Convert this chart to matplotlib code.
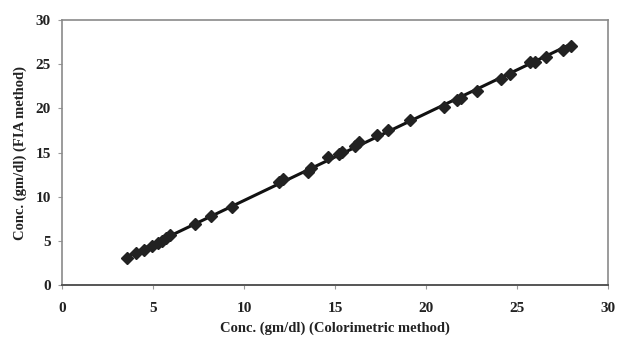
import numpy as np
import matplotlib
matplotlib.use("Agg")
import matplotlib.pyplot as plt

plt.rcParams['font.family'] = ['Liberation Serif', 'DejaVu Serif']

colorimetric = [3.59, 4.09, 4.5, 4.95, 5.27, 5.48, 5.7, 5.96, 7.3, 8.17, 9.35,
                11.9, 12.15, 13.5, 13.7, 14.6, 15.2, 15.4, 16.1, 16.3, 17.3, 17.9,
                19.1, 20.97, 21.7, 21.9, 22.8, 24.1, 24.6, 25.7, 26.0, 26.6, 27.5, 27.96]
fia = [3.09, 3.58, 4.0, 4.4, 4.7, 5.0, 5.3, 5.66, 6.9, 7.8, 8.8,
       11.7, 11.96, 12.8, 13.2, 14.5, 14.8, 15.1, 15.7, 16.2, 17.0, 17.5,
       18.7, 20.2, 21.0, 21.2, 22.0, 23.3, 23.9, 25.2, 25.3, 25.8, 26.6, 27.1]
ticks = [0, 5, 10, 15, 20, 25, 30]

fig = plt.figure(figsize=(6.18, 3.4), dpi=100)
ax = fig.add_axes([62/618, 1-285/340, 546/618, 265/340])

x = np.array(colorimetric)
y = np.array(fia)
m, b = np.polyfit(x, y, 1)
xl = np.array([x.min(), x.max()])
ax.plot(xl, m*xl + b, color='#111111', lw=2.2, zorder=2)
ax.plot(x, y, linestyle='none', marker='D', ms=6, color='#222222', zorder=3)

ax.set_xlim(0, 30)
ax.set_ylim(0, 30)
ax.set_xticks(ticks)
ax.set_yticks(ticks)
for s in ['left', 'right', 'top']:
    ax.spines[s].set_color('#8a8a8a')
    ax.spines[s].set_linewidth(1.2)
ax.spines['bottom'].set_color('#555555')
ax.spines['bottom'].set_linewidth(1.4)
ax.tick_params(axis='both', direction='out', length=3, color='#999999',
               labelsize=11, labelcolor='#222222')
ax.tick_params(axis='y', pad=5)
ax.tick_params(axis='x', pad=9)
for lab in ax.get_xticklabels() + ax.get_yticklabels():
    lab.set_fontweight('bold')

ax.set_xlabel('Conc. (gm/dl) (Colorimetric method)', fontsize=10.5,
              fontweight='bold', color='#222222')
ax.set_ylabel('Conc. (gm/dl) (FIA method)', fontsize=10.5,
              fontweight='bold', color='#222222')
ax.xaxis.set_label_coords(0.5, (285 - 322) / 265)
ax.yaxis.set_label_coords((27 - 62) / 546, 0.5)

fig.savefig('out.png', dpi=100)
